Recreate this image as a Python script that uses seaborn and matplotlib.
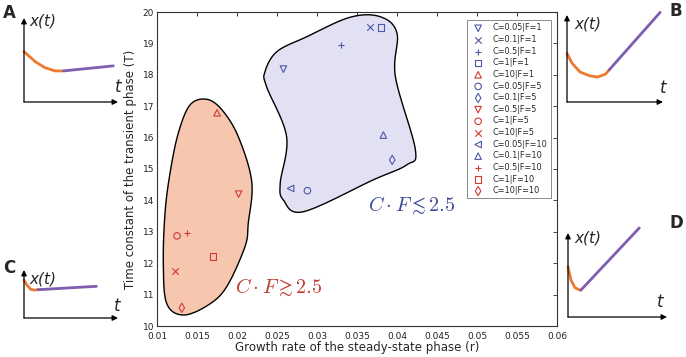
import numpy as np
import pandas as pd
import matplotlib
matplotlib.use("Agg")
import matplotlib.pyplot as plt
import seaborn as sns

# ---------------- data ----------------
labels = ["C=0.05|F=1", "C=0.1|F=1", "C=0.5|F=1", "C=1|F=1", "C=10|F=1",
          "C=0.05|F=5", "C=0.1|F=5", "C=0.5|F=5", "C=1|F=5", "C=10|F=5",
          "C=0.05|F=10", "C=0.1|F=10", "C=0.5|F=10", "C=1|F=10", "C=10|F=10"]
growth_r = [0.0258, 0.0366, 0.0330, 0.0380, 0.0175,
            0.0288, 0.0394, 0.0202, 0.0125, 0.0122,
            0.0267, 0.0383, 0.0138, 0.0170, 0.0131]
time_T = [18.18, 19.51, 18.95, 19.51, 16.79,
          14.31, 15.29, 14.20, 12.87, 11.76,
          14.38, 16.08, 12.97, 12.21, 10.58]
markers = ["v", "x", "+", "s", "^", "o", "d", "v", "o", "x", "<", "^", "+", "s", "d"]
group = ["lo", "lo", "lo", "lo", "hi", "lo", "lo", "hi", "hi", "hi", "lo", "lo", "hi", "hi", "hi"]

# outlines of the two regions (data coords)
red_x = [0.01413, 0.01621, 0.01813, 0.02016, 0.02184, 0.02141, 0.02100, 0.01871,
         0.01641, 0.01329, 0.01121, 0.01079, 0.01100, 0.01163, 0.01266]
red_y = [17.04, 17.22, 16.88, 16.03, 14.60, 13.27, 12.53, 11.25,
         10.67, 10.35, 10.72, 12.00, 13.59, 14.87, 16.14]
blue_x = [0.0235, 0.0250, 0.0287, 0.0341, 0.0379, 0.0400, 0.0398, 0.0423, 0.0412,
          0.0370, 0.0283, 0.0258, 0.0254, 0.0262, 0.0237]
blue_y = [18.10, 18.74, 19.21, 19.83, 19.85, 19.32, 17.94, 15.61, 15.13,
          14.65, 13.64, 14.01, 14.54, 16.03, 17.62]

# schematic curves for the four small panels (local units)
A_trans = ([0.0, 0.12, 0.22, 0.33, 0.42], [0.60, 0.48, 0.41, 0.37, 0.37])
A_steady = ([0.42, 0.95], [0.37, 0.43])
B_trans = ([0.0, 0.05, 0.135, 0.24, 0.32, 0.40, 0.44], [0.56, 0.45, 0.345, 0.30, 0.287, 0.32, 0.37])
B_steady = ([0.44, 0.97], [0.37, 1.03])
C_trans = ([0.0, 0.03, 0.07, 0.11, 0.15], [0.79, 0.69, 0.60, 0.58, 0.59])
C_steady = ([0.15, 0.77], [0.59, 0.66])
D_trans = ([0.0, 0.03, 0.07, 0.12, 0.13], [0.60, 0.44, 0.35, 0.32, 0.32])
D_steady = ([0.13, 0.72], [0.32, 1.06])

blue = "#4a58a6"
red = "#d23a30"
colors = {"lo": blue, "hi": red}

df = pd.DataFrame({"r": growth_r, "T": time_T, "label": labels,
                   "marker": markers, "group": group})


def smooth_closed(xs, ys, n=24):
    P = np.column_stack([xs, ys])
    N = len(P)
    t = np.linspace(0, 1, n, endpoint=False)[:, None]
    out = []
    for i in range(N):
        p0, p1, p2, p3 = P[i - 1], P[i], P[(i + 1) % N], P[(i + 2) % N]
        out.append(0.5 * (2 * p1 + (-p0 + p2) * t + (2 * p0 - 5 * p1 + 4 * p2 - p3) * t ** 2
                          + (-p0 + 3 * p1 - 3 * p2 + p3) * t ** 3))
    return np.vstack(out)


sns.set_style("white")
plt.rcParams["font.family"] = ["DejaVu Sans"]
plt.rcParams["mathtext.fontset"] = "cm"

fig = plt.figure(figsize=(6.86, 3.57), dpi=100)
ax = fig.add_axes([157 / 686, 1 - 326 / 357, 400 / 686, 314 / 357])

# regions
for xs, ys, fc in [(red_x, red_y, "#f7c6ae"), (blue_x, blue_y, "#e1e1f3")]:
    pts = smooth_closed(xs, ys)
    ax.fill(pts[:, 0], pts[:, 1], facecolor=fc, edgecolor="black", lw=1.0, zorder=1)

# points, one call each so filled/line markers can be mixed
for _, row in df.iterrows():
    c = colors[row["group"]]
    face = c if row["marker"] in ("x", "+") else "none"
    sns.scatterplot(x=[row["r"]], y=[row["T"]], marker=row["marker"], s=22,
                    color=c, facecolor=face, edgecolor=c, linewidth=0.8,
                    label=row["label"], ax=ax, zorder=3, legend=False)

ax.set_xlim(0.01, 0.06)
ax.set_ylim(10, 20)
ax.set_xticks(np.arange(0.01, 0.0601, 0.005))
ax.set_xticklabels(["0.01", "0.015", "0.02", "0.025", "0.03", "0.035", "0.04",
                    "0.045", "0.05", "0.055", "0.06"])
ax.set_yticks(range(10, 21))
ax.tick_params(direction="in", top=True, right=True, labelsize=6.5, length=3, width=0.6,
               pad=2, colors="#222222")
ax.tick_params(axis="x", pad=4)
for sp in ax.spines.values():
    sp.set_color("#333333")
    sp.set_linewidth(0.8)
ax.set_xlabel("Growth rate of the steady-state phase (r)", fontsize=8.5, labelpad=0)
ax.set_ylabel("Time constant of the transient phase (T)", fontsize=8.5, labelpad=4)

ax.text(0.0364, 13.85, r"$C \cdot F \lesssim 2.5$", color="#3c4a9a", fontsize=14.5, va="center")
ax.text(0.0198, 11.24, r"$C \cdot F \gtrsim 2.5$", color="#c0392f", fontsize=14.5, va="center")

handles, labs = ax.get_legend_handles_labels()
leg = ax.legend(handles, labs, loc="upper right", fontsize=5.9, frameon=True, fancybox=False,
                edgecolor="#555555", labelspacing=0.32, handletextpad=0.9, borderpad=0.4,
                handlelength=1.8, bbox_to_anchor=(0.995, 0.987))
leg.get_frame().set_linewidth(0.6)

# ---------------- small panels ----------------
panels = [
    ("A", (24, 102, 94, 84), A_trans, A_steady, (9, 13), (43, 21), (118, 87)),
    ("B", (567, 102, 96, 87), B_trans, B_steady, (676, 11), (588, 24), (663, 88)),
    ("C", (24, 318, 94, 48), C_trans, C_steady, (9, 268), (43, 279), (117, 306)),
    ("D", (568, 317, 99, 84), D_trans, D_steady, (676, 223), (588, 238), (660, 302)),
]
W, H = 686, 357
for letter, (px, py, pw, ph), tr, st, lpos, xpos, tpos in panels:
    a = fig.add_axes([px / W, 1 - py / H, pw / W, ph / H])
    a.set_xlim(0, 1)
    a.set_ylim(0, 1)
    a.axis("off")
    a.annotate("", xy=(1.0, 0), xytext=(0, 0),
               arrowprops=dict(arrowstyle="-|>", color="black", lw=0.9, mutation_scale=8,
                               shrinkA=0, shrinkB=0))
    a.annotate("", xy=(0, 1.0), xytext=(0, 0),
               arrowprops=dict(arrowstyle="-|>", color="black", lw=0.9, mutation_scale=8,
                               shrinkA=0, shrinkB=0))
    a.plot(tr[0], tr[1], color="#ec7a2e", lw=2.0, clip_on=False, solid_capstyle="round")
    a.plot(st[0], st[1], color="#7f5db0", lw=2.0, clip_on=False, solid_capstyle="round")
    fig.text(lpos[0] / W, 1 - lpos[1] / H, letter, fontsize=12, fontweight="bold",
             ha="center", va="center")
    fig.text(xpos[0] / W, 1 - xpos[1] / H, "x(t)", fontsize=11, style="italic",
             ha="center", va="center")
    fig.text(tpos[0] / W, 1 - tpos[1] / H, "t", fontsize=12, style="italic",
             ha="center", va="center")

fig.savefig("out.png", dpi=100)
